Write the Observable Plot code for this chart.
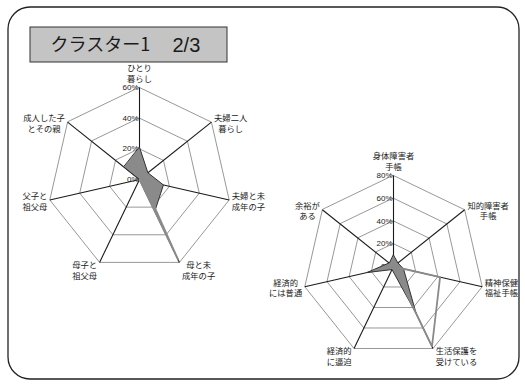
<!DOCTYPE html>
<html><head><meta charset="utf-8">
<script src="https://cdn.jsdelivr.net/npm/d3@7"></script>
<script src="https://cdn.jsdelivr.net/npm/@observablehq/plot@0.6"></script>
<style>body{margin:0;background:#fff} svg{display:block}</style>
</head><body><div id="chart"></div>
<script>
// ---- data ----
const titleMain = "クラスター1";
const titlePage = "2/3";
const axes1 = ["ひとり\n暮らし","夫婦二人\n暮らし","夫婦と未\n成年の子","母と未\n成年の子","母子と\n祖父母","父子と\n祖父母","成人した子\nとその親"];
const cluster1 = [0.21, 0.07, 0.16, 0.23, 0.00, 0.00, 0.13];
const overall1 = [0.00, 0.00, 0.02, 0.58, 0.00, 0.00, 0.00];
const ticks1 = [0, 0.2, 0.4, 0.6];
const axes2 = ["身体障害者\n手帳","知的障害者\n手帳","精神保健\n福祉手帳","生活保護を\n受けている","経済的\nに逼迫","経済的\nには普通","余裕が\nある"];
const cluster2 = [0.10, 0.05, 0.09, 0.46, 0.03, 0.24, 0.05];
const overall2 = [0.00, 0.00, 0.42, 0.78, 0.00, 0.00, 0.00];
const ticks2 = [0, 0.2, 0.4, 0.6, 0.8];

// ---- layout ----
const W = 525, H = 386, FS = 8.3, LH = 1.28;
const charts = [
  {cx: 139, cy: 179, R: 92, axes: axes1, s1: cluster1, s2: overall1, ticks: ticks1},
  {cx: 393, cy: 266, R: 91, axes: axes2, s1: cluster2, s2: overall2, ticks: ticks2}
];

const rings = [], spokes = [], poly1 = [], poly2 = [], tickLabels = [], labels = [];
charts.forEach((c, ci) => {
  const n = c.axes.length;
  const max = d3.max(c.ticks);
  const r = d3.scaleLinear().domain([0, max]).range([0, c.R]);
  const ang = i => 2 * Math.PI * i / n;
  const pt = (i, v) => ({x: c.cx + r(v) * Math.sin(ang(i)), y: c.cy - r(v) * Math.cos(ang(i))});
  c.ticks.filter(t => t > 0).forEach(t => {
    for (let i = 0; i < n; i++) rings.push({...pt(i, t), g: ci + "-" + t});
  });
  c.axes.forEach((a, i) => {
    const p = pt(i, max);
    spokes.push({x1: c.cx, y1: c.cy, x2: p.x, y2: p.y});
    const s = Math.sin(ang(i)), co = Math.cos(ang(i));
    const lines = a.split("\n");
    const half = d3.max(lines, l => l.length) * 8.6 / 2;
    const type = co > 0.9 ? "top" : (co < -0.8 ? "bottom" : "side");
    const dirx = s > 0.1 ? 1 : (s < -0.1 ? -1 : 0);
    labels.push({text: a, type, x: p.x + dirx * (half + 2),
      y: type === "top" ? p.y - 6 : (type === "bottom" ? p.y - 2 : p.y + 1)});
  });
  c.s1.forEach((v, i) => poly1.push({...pt(i, v), g: ci}));
  c.s2.forEach((v, i) => poly2.push({...pt(i, v), g: ci}));
  c.ticks.forEach(t => tickLabels.push({x: c.cx - 1, y: c.cy - r(t), text: d3.format(".0%")(t)}));
});

const font = "'Noto Sans CJK JP', sans-serif";
const plot = Plot.plot({
  width: W, height: H, margin: 0,
  x: {domain: [0, W], range: [0, W], axis: null},
  y: {domain: [0, H], range: [0, H], axis: null},
  style: {fontFamily: font, background: "#fff"},
  marks: [
    Plot.rect([{x1: 8, x2: 519, y1: 7, y2: 379}], {x1: "x1", x2: "x2", y1: "y1", y2: "y2", fill: "none", stroke: "#222", strokeWidth: 1.3, rx: 22}),
    Plot.rect([{x1: 30, x2: 227, y1: 27, y2: 62}], {x1: "x1", x2: "x2", y1: "y1", y2: "y2", fill: "#c4c4c4", stroke: "#333", strokeWidth: 1}),
    Plot.text([titleMain], {x: 50, y: 45, text: d => d, textAnchor: "start", fontSize: 18, fill: "#1a1a1a", style: "letter-spacing:-1.2px"}),
    Plot.text([titlePage], {x: 172, y: 45, text: d => d, textAnchor: "start", fontSize: 20, fill: "#1a1a1a", fontFamily: "'Liberation Sans', sans-serif"}),
    Plot.line(rings, {x: "x", y: "y", z: "g", curve: "linear-closed", stroke: "#8c8c8c", strokeWidth: 0.9}),
    Plot.link(spokes, {x1: "x1", y1: "y1", x2: "x2", y2: "y2", stroke: "#1a1a1a", strokeWidth: 1.1}),
    Plot.text(tickLabels, {x: "x", y: "y", text: "text", textAnchor: "end", fontSize: 8, fill: "#222", fontFamily: "'Liberation Sans', sans-serif"}),
    Plot.line(poly1, {x: "x", y: "y", z: "g", curve: "linear-closed", fill: "#8a8a8a", stroke: "#333", strokeWidth: 1}),
    Plot.line(poly2, {x: "x", y: "y", z: "g", curve: "linear-closed", stroke: "#8a8a8a", strokeWidth: 1.8}),
    Plot.text(labels.filter(d => d.type === "top"), {x: "x", y: "y", text: "text", lineAnchor: "bottom", lineHeight: LH, fontSize: FS, fill: "#222"}),
    Plot.text(labels.filter(d => d.type === "side"), {x: "x", y: "y", text: "text", lineAnchor: "middle", lineHeight: LH, fontSize: FS, fill: "#222"}),
    Plot.text(labels.filter(d => d.type === "bottom"), {x: "x", y: "y", text: "text", lineAnchor: "top", lineHeight: LH, fontSize: FS, fill: "#222"})
  ]
});
document.getElementById("chart").appendChild(plot);
</script>
</body></html>
